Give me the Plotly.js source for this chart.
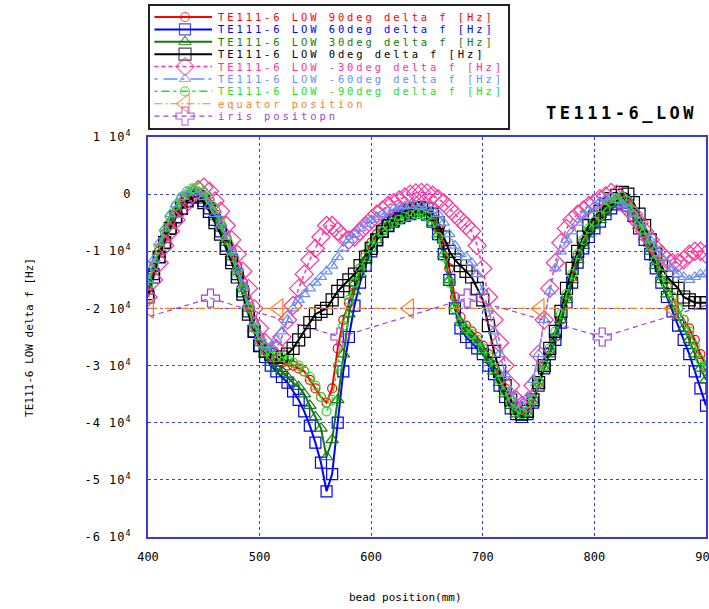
<!DOCTYPE html>
<html>
<head>
<meta charset="utf-8">
<script src="https://cdn.plot.ly/plotly-3.0.1.min.js"></script>
<style>html,body{margin:0;padding:0;background:#fff;}#chart{width:709px;height:609px;}</style>
</head>
<body>
<div id="chart"></div>
<script>
// bead positions (mm)
const xs = [400,405,410,415,420,425,430,435,440,445,
            450,455,460,465,470,475,480,485,490,495,
            500,505,510,515,520,525,530,535,540,545,
            550,555,560,565,570,575,580,585,590,595,
            600,605,610,615,620,625,630,635,640,645,
            650,655,660,665,670,675,680,685,690,695,
            700,705,710,715,720,725,730,735,740,745,
            750,755,760,765,770,775,780,785,790,795,
            800,805,810,815,820,825,830,835,840,845,
            850,855,860,865,870,875,880,885,890,895,
            900];

const low90 = [-16500,-13000,-10000,-7500,-5000,-3200,-1800,-500,200,300,
  -500,-1800,-3500,-5500,-7500,-10000,-12500,-15500,-19000,-22500,
  -25000,-27000,-28500,-29000,-29500,-30000,-30000,-30500,-31000,-32500,
  -34000,-35500,-36500,-34000,-27000,-22000,-19000,-16000,-13000,-10500,
  -8500,-7000,-5800,-4800,-4200,-3600,-3200,-2900,-2700,-2700,
  -3000,-4000,-6000,-9000,-13000,-18000,-21500,-23000,-24000,-25000,
  -26500,-28000,-30000,-32000,-34000,-36000,-37500,-38500,-38000,-36000,
  -33000,-30000,-27500,-25000,-22000,-18000,-14500,-11000,-8500,-6500,
  -5000,-4000,-2800,-1800,-1200,-900,-1300,-3000,-5000,-7000,
  -9000,-11500,-14000,-16000,-18000,-20000,-22000,-23500,-25500,-28000,
  -30000];

const low60 = [-17500,-14000,-11000,-8500,-6000,-4000,-2500,-1200,-500,-300,
  -1200,-2500,-4500,-6500,-9000,-11500,-14000,-17000,-20500,-24000,
  -26500,-28500,-30000,-31000,-32000,-33000,-34500,-36000,-38000,-40500,
  -43500,-47000,-52000,-49000,-40000,-31000,-25000,-19500,-15500,-12500,
  -10000,-8000,-6500,-5500,-4800,-4200,-3800,-3500,-3300,-3300,
  -3600,-4800,-7000,-10500,-15000,-20000,-23500,-25000,-26000,-27000,
  -28000,-30000,-31500,-33500,-35500,-37500,-38500,-39000,-38500,-36500,
  -33500,-30500,-28000,-25500,-22500,-19000,-15500,-12000,-9500,-7500,
  -6000,-4800,-3500,-2500,-1800,-1500,-2000,-3800,-6000,-8000,
  -10500,-13000,-15500,-18000,-20500,-23000,-25500,-28000,-31000,-34000,
  -37000];

const low30 = [-17000,-13500,-10500,-8000,-5500,-3500,-2000,-800,0,200,
  -700,-2000,-4000,-6000,-8500,-11000,-13500,-16500,-20000,-23500,
  -26000,-28000,-29500,-30500,-31000,-32000,-33000,-33700,-35000,-37000,
  -39000,-41000,-46000,-43000,-36000,-28000,-21000,-17000,-14000,-11500,
  -9500,-8000,-6500,-5500,-4800,-4200,-3800,-3500,-3300,-3400,
  -3800,-5000,-7000,-10500,-15000,-19500,-22500,-24000,-25000,-26000,
  -27500,-29000,-31000,-33000,-35000,-37000,-38500,-39000,-38500,-36500,
  -33500,-30500,-28000,-25000,-22000,-18500,-15000,-11500,-9000,-7000,
  -5500,-4500,-3200,-2200,-1500,-1200,-1800,-3500,-5500,-7500,
  -10000,-12500,-15000,-17500,-19500,-21500,-23500,-25500,-28000,-30500,
  -32500];

const low0 = [-18000,-14500,-11000,-8500,-6000,-4000,-2500,-1200,-500,-500,
  -1500,-3000,-5000,-7000,-9500,-12000,-14500,-17500,-21000,-24000,
  -26500,-27500,-28000,-28500,-28500,-28000,-27000,-25500,-24000,-22500,
  -21000,-20500,-20000,-18500,-17000,-16000,-15000,-14000,-12500,-11000,
  -9500,-8000,-6500,-5500,-4500,-3800,-3200,-2800,-2500,-2400,
  -2600,-3500,-5000,-7500,-10000,-11500,-12500,-13500,-14500,-16500,
  -18500,-23000,-27500,-31000,-33500,-36000,-37500,-38500,-38000,-36000,
  -33000,-30000,-27000,-24000,-20500,-16500,-13000,-10000,-7500,-5500,
  -4000,-3000,-1800,-800,-200,300,0,-1500,-3500,-5500,
  -8000,-10500,-12500,-14500,-15500,-16500,-18000,-18500,-19000,-19000,
  -19000];

const lowm30 = [-18000,-15000,-12000,-9000,-6500,-4500,-2500,-1000,0,800,
  1200,500,-1200,-3000,-5500,-8000,-10500,-13500,-16500,-20000,
  -23500,-26000,-27500,-27000,-25000,-22000,-19500,-16500,-14000,-11500,
  -9500,-7500,-5500,-5500,-6500,-7500,-8000,-7500,-6500,-5500,
  -4500,-3500,-2800,-2000,-1500,-1000,-500,0,200,300,
  200,-200,-800,-1500,-2500,-3500,-4500,-5500,-6500,-9000,
  -13000,-18000,-22000,-26000,-30000,-33500,-36000,-37000,-36500,-33500,
  -28000,-22000,-16500,-12000,-8500,-6000,-4500,-3500,-2800,-2000,
  -1500,-800,-300,300,0,-1000,-2500,-3500,-5000,-6500,
  -8000,-9500,-10500,-11500,-12000,-12000,-11500,-10500,-10000,-10000,
  -10500];

const lowm60 = [-15000,-11500,-8500,-6000,-3500,-1800,-500,300,700,300,
  -500,-2000,-3500,-5500,-7500,-10000,-13000,-16000,-19500,-22500,
  -25000,-26500,-27000,-25500,-24000,-22000,-20000,-18500,-17500,-16500,
  -15500,-14500,-13500,-12500,-11000,-9500,-8000,-7000,-6000,-5200,
  -4500,-4000,-3500,-3000,-2600,-2300,-2100,-2000,-2000,-2100,
  -2300,-2800,-3500,-5000,-7000,-9000,-10500,-11000,-12000,-14000,
  -17000,-20000,-24000,-28000,-31500,-34500,-36500,-37000,-35500,-32500,
  -28000,-22000,-17000,-13000,-10000,-8000,-6500,-5000,-3800,-2800,
  -2000,-1300,-800,-500,-1000,-1800,-2500,-3500,-5000,-6500,
  -8000,-9500,-11000,-12000,-13000,-14000,-14500,-15000,-14500,-14000,
  -14000];

const lowm90 = [-16000,-12500,-9500,-6500,-4000,-2000,-500,500,1000,1200,
  300,-800,-2500,-5000,-8000,-11000,-13800,-16800,-20000,-23500,
  -26000,-27500,-28500,-28500,-28500,-29000,-29500,-30000,-31000,-32000,
  -33500,-35500,-38000,-36000,-30000,-23000,-18500,-15500,-13000,-11000,
  -9200,-7800,-6500,-5500,-5000,-4500,-4000,-3700,-3500,-3500,
  -3800,-5000,-7500,-11000,-15500,-20000,-22500,-23500,-24500,-25500,
  -27000,-28500,-30500,-32500,-34500,-36500,-38000,-38500,-38000,-36000,
  -33000,-30000,-27000,-24000,-21000,-17500,-14000,-10500,-8000,-6000,
  -4800,-3800,-2500,-1500,-800,-500,-1200,-3000,-4800,-6800,
  -9000,-11500,-14000,-16000,-18000,-20000,-22000,-24000,-26500,-29000,
  -30500];

const equatorX = [401,517,634,751,870];
const equatorY = [-20000,-20000,-20000,-20000,-20000];
const irisX = [340,456,572,686,807,921];
const irisY = [-25000,-18200,-25000,-18200,-25000,-18200];

const legendLabels = [
  'TE111-6 LOW 90deg delta f [Hz]',
  'TE111-6 LOW 60deg delta f [Hz]',
  'TE111-6 LOW 30deg delta f [Hz]',
  'TE111-6 LOW 0deg delta f [Hz]',
  'TE111-6 LOW -30deg delta f [Hz]',
  'TE111-6 LOW -60deg delta f [Hz]',
  'TE111-6 LOW -90deg delta f [Hz]',
  'equator position',
  'iris positopn'
];
const yTickVals = [10000,0,-10000,-20000,-30000,-40000,-50000,-60000];
const yTickText = ['1 10<sup>4</sup>','0','-1 10<sup>4</sup>','-2 10<sup>4</sup>','-3 10<sup>4</sup>','-4 10<sup>4</sup>','-5 10<sup>4</sup>','-6 10<sup>4</sup>'];
const xTickVals = [400,500,600,700,800,900];

const styles = [
  {x: xs, y: low90,  color:'#ff0000', sym:'circle-open',       size:9,  dash:'solid', w:2},
  {x: xs, y: low60,  color:'#0000ff', sym:'square-open',       size:11, dash:'solid', w:2},
  {x: xs, y: low30,  color:'#117a11', sym:'triangle-up-open',  size:11, dash:'solid', w:2},
  {x: xs, y: low0,   color:'#000000', sym:'square-open',       size:12, dash:'solid', w:2},
  {x: xs, y: lowm30, color:'#ff3399', sym:'diamond-open',      size:14, dash:'4px,3px', w:1.5},
  {x: xs, y: lowm60, color:'#6a8ff7', sym:'triangle-up-open',  size:10, dash:'3px,6px,14px,4px', w:1.5},
  {x: xs, y: lowm90, color:'#22e022', sym:'circle-open',       size:9,  dash:'3px,4px,8px,4px', w:1.5},
  {x: equatorX, y: equatorY, color:'#ff7f1e', sym:'triangle-left-open', size:17, dash:'8px,3px,2px,3px', w:1.2},
  {x: irisX, y: irisY, color:'#a040dd', sym:'cross-open', size:15, dash:'5px,4px', w:1.2}
];

const FONT = 'DejaVu Sans Mono, Liberation Mono, monospace';
const spaced = (t, px) => '<span style="letter-spacing:' + px + 'px">' + t + '</span>';

const traces = [];
styles.forEach((s) => {
  traces.push({
    type:'scatter', mode:'lines+markers', x:s.x, y:s.y, xaxis:'x', yaxis:'y',
    line:{color:s.color, width:s.w, dash:s.dash},
    marker:{symbol:s.sym, size:s.size, color:s.color, line:{color:s.color, width:1.2}},
    showlegend:false, hoverinfo:'skip', cliponaxis:true
  });
});
// custom legend samples on an overlay axis
const annotations = [];
styles.forEach((s, i) => {
  traces.push({
    type:'scatter', mode:'lines+markers', x:[0.015,0.1,0.175], y:[i,i,i], xaxis:'x2', yaxis:'y2',
    line:{color:s.color, width:s.w, dash:s.dash},
    marker:{symbol:s.sym, size:[0,s.size,0], color:s.color, line:{color:s.color, width:1.2}},
    showlegend:false, hoverinfo:'skip'
  });
  annotations.push({
    xref:'x2', yref:'y2', x:0.186, y:i, xanchor:'left', yanchor:'middle',
    text:spaced(legendLabels[i], 2.9), showarrow:false,
    font:{family:FONT, size:10.5, color:s.color}
  });
});

annotations.push({
  xref:'paper', yref:'paper', x:0.849, y:0.797, xanchor:'center', yanchor:'middle',
  text:spaced('<b>TE111-6_LOW</b>', 3.5), showarrow:false, font:{family:FONT, size:17, color:'#000'}
});
annotations.push({
  xref:'paper', yref:'paper', x:-0.2115, y:0.376, xanchor:'center', yanchor:'middle',
  text:'TE111-6 LOW delta f [Hz]', textangle:-90, showarrow:false,
  font:{family:FONT, size:11, color:'#000'}
});
annotations.push({
  xref:'paper', yref:'paper', x:0.4606, y:-0.1128, xanchor:'center', yanchor:'middle',
  text:'bead position(mm)', showarrow:false, font:{family:FONT, size:11, color:'#000'}
});

const layout = {
  width:709, height:609,
  margin:{l:148, r:3, t:5, b:72, pad:0},
  paper_bgcolor:'#ffffff', plot_bgcolor:'#ffffff',
  showlegend:false,
  font:{family:FONT, size:12, color:'#000'},
  xaxis:{
    domain:[0,1], anchor:'y', range:[400,900], tickvals:xTickVals,
    showgrid:true, gridcolor:'#3344ee', griddash:'dot', gridwidth:1,
    showline:true, mirror:true, linecolor:'#3a3ad8', linewidth:2,
    zeroline:false, ticks:'', ticklabelstandoff:8, ticklabeloverflow:'allow',
    tickfont:{family:FONT, size:12, color:'#000'}
  },
  yaxis:{
    domain:[0,0.7519], anchor:'x', range:[-60000,10000],
    tickvals:yTickVals, ticktext:yTickText.map(t => spaced(t, 1)),
    showgrid:true, gridcolor:'#3344ee', griddash:'dot', gridwidth:1,
    showline:true, mirror:true, linecolor:'#3a3ad8', linewidth:2,
    zeroline:false, ticks:'', ticklabelstandoff:12, ticklabeloverflow:'allow',
    tickfont:{family:FONT, size:12, color:'#000'}
  },
  xaxis2:{domain:[0.0018,0.647], anchor:'y2', range:[0,1], visible:false, fixedrange:true},
  yaxis2:{domain:[0.767,1.0], anchor:'x2', range:[9.032,-0.968], visible:false, fixedrange:true},
  shapes:[{
    type:'rect', xref:'paper', yref:'paper', x0:0.0018, x1:0.647, y0:0.767, y1:1.0,
    line:{color:'#222', width:2}, fillcolor:'rgba(0,0,0,0)', layer:'below'
  }],
  annotations:annotations
};

Plotly.newPlot('chart', traces, layout, {staticPlot:true, displayModeBar:false});
</script>
</body>
</html>
